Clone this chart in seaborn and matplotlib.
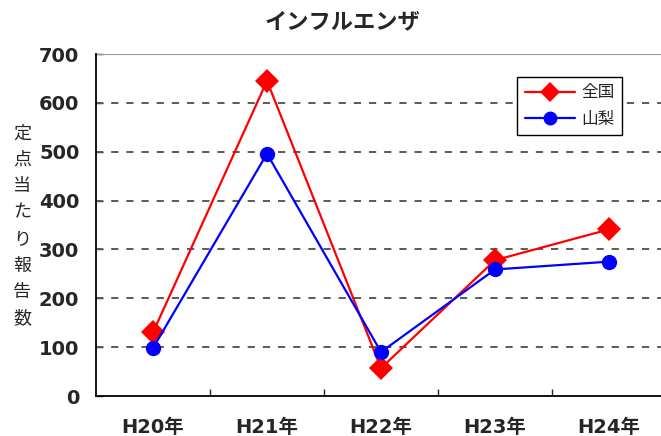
import matplotlib
matplotlib.use("Agg")
import matplotlib.pyplot as plt
import seaborn as sns
import pandas as pd
from matplotlib.lines import Line2D

years = ["H20年", "H21年", "H22年", "H23年", "H24年"]
zenkoku = [130, 645, 57, 278, 341]
yamanashi = [98, 496, 90, 259, 275]
series_names = ["全国", "山梨"]
y_ticks = [0, 100, 200, 300, 400, 500, 600, 700]

sns.set_theme(style="white")
plt.rcParams["font.family"] = ["Noto Sans CJK JP", "DejaVu Sans"]
tick_family = ["DejaVu Sans", "Noto Sans CJK JP"]

df = pd.DataFrame({
    "年": years * 2,
    "値": zenkoku + yamanashi,
    "地域": [series_names[0]] * len(years) + [series_names[1]] * len(years),
})

fig = plt.figure(figsize=(6.61, 4.36), dpi=100)
ax = fig.add_axes([96 / 661, 40 / 436, 570 / 661, 342 / 436])

styles = {
    "全国": dict(color="#ff0000", marker="D", markersize=12),
    "山梨": dict(color="#0000ff", marker="o", markersize=11),
}
for name in series_names:
    st = styles[name]
    sns.lineplot(data=df[df["地域"] == name], x="年", y="値",
                 color=st["color"], marker=st["marker"], markersize=st["markersize"],
                 markeredgewidth=0, linewidth=1.6, sort=False, ax=ax, zorder=3)

ax.set_xlim(-0.5, 4.5)
ax.set_ylim(0, 700)
ax.set_xlabel("")
ax.set_ylabel("")

# grid lines
for v in y_ticks[1:-1]:
    ax.axhline(v, color="#5a5a5a", lw=1.4, ls=(0, (3.7, 4.1)), zorder=1)
ax.axhline(700, color="#999999", lw=1.5, zorder=1)

for s in ["top", "right"]:
    ax.spines[s].set_visible(False)
for s in ["left", "bottom"]:
    ax.spines[s].set_color("black")
    ax.spines[s].set_linewidth(1.3)

ax.set_yticks(y_ticks)
ax.set_yticklabels([str(v) for v in y_ticks], fontsize=14, fontweight="bold",
                   family=tick_family)
ax.tick_params(axis="y", direction="in", length=5, width=1, pad=12, left=True)

ax.set_xticks(range(len(years)))
ax.set_xticklabels(years, fontsize=14, fontweight="bold", family=tick_family)
ax.set_xticks([i + 0.5 for i in range(len(years) - 1)], minor=True)
ax.tick_params(axis="x", which="major", length=0, pad=16)
ax.tick_params(axis="x", which="minor", direction="in", length=5, width=1, bottom=True)

fig.text(342 / 661, 1 - 22 / 436, "インフルエンザ", ha="center", va="center",
         fontsize=16, fontweight="bold")
fig.text(22 / 661, 1 - 226 / 436, "\n".join("定点当たり報告数"), ha="center", va="center",
         fontsize=13, linespacing=1.6)

handles = [
    Line2D([], [], color="#ff0000", marker="D", markersize=10, markeredgewidth=0, lw=1.6),
    Line2D([], [], color="#0000ff", marker="o", markersize=10, markeredgewidth=0, lw=1.6),
]
leg = ax.legend(handles, series_names, loc="upper left", bbox_to_anchor=(0.739, 0.933),
                borderaxespad=0, fontsize=12, frameon=True, fancybox=False, framealpha=1,
                edgecolor="black", handlelength=3.0, handletextpad=0.4,
                borderpad=0.45, labelspacing=0.55)
leg.get_frame().set_linewidth(1.0)
leg.set_zorder(5)

fig.savefig("out.png", dpi=100)
